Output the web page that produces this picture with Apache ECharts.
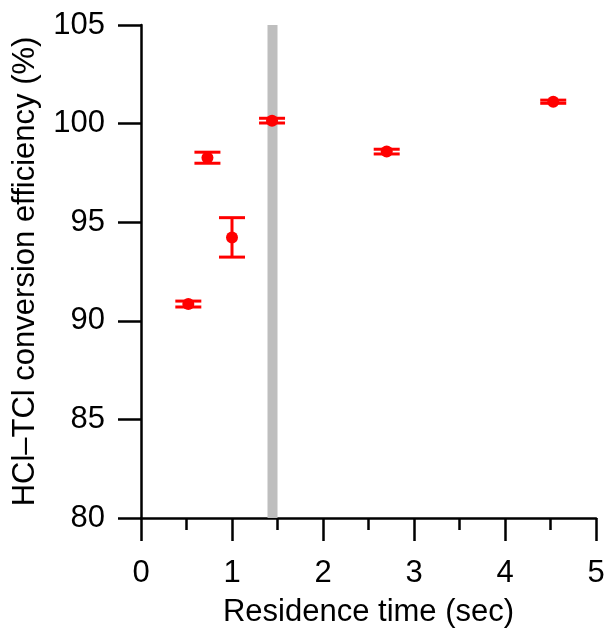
<!DOCTYPE html>
<html>
<head>
<meta charset="utf-8">
<script src="https://cdn.jsdelivr.net/npm/echarts@6/dist/echarts.min.js"></script>
<style>
html,body{margin:0;padding:0;background:#fff;}
#chart{width:607px;height:628px;}
</style>
</head>
<body>
<div id="chart"></div>
<script>
// Data
var residenceTime = [0.52, 0.73, 1.00, 1.44, 2.70, 4.53];
var efficiency    = [90.85, 98.27, 94.23, 100.15, 98.58, 101.11];
var errorAbs      = [0.15, 0.28, 1.00, 0.12, 0.12, 0.08];
var bandRange     = [1.39, 1.50];
var xTicks = [0, 1, 2, 3, 4, 5];
var yTicks = [80, 85, 90, 95, 100, 105];

var FONT = '"Liberation Sans", Arial, sans-serif';
var RED = '#ff0000';

var points = residenceTime.map(function (x, i) { return [x, efficiency[i]]; });
var errData = residenceTime.map(function (x, i) {
  return [x, efficiency[i] - errorAbs[i], efficiency[i] + errorAbs[i]];
});

var chart = echarts.init(document.getElementById('chart'), null, {renderer: 'canvas'});
chart.setOption({
  animation: false,
  backgroundColor: '#fff',
  grid: {left: 141, right: 11, top: 25, bottom: 110, containLabel: false, outerBoundsMode: 'none'},
  xAxis: {
    type: 'value',
    min: xTicks[0], max: xTicks[xTicks.length - 1], interval: 1,
    name: 'Residence time (sec)',
    nameLocation: 'middle', nameGap: 79,
    nameTextStyle: {fontFamily: FONT, fontSize: 31, color: '#000'},
    axisLine: {show: true, onZero: false, lineStyle: {color: '#000', width: 2.5}},
    axisTick: {show: true, inside: false, length: 23, lineStyle: {color: '#000', width: 2.5}},
    minorTick: {show: true, splitNumber: 2, length: 12, lineStyle: {color: '#000', width: 2.5}},
    axisLabel: {fontFamily: FONT, fontSize: 31, color: '#000', margin: 40},
    splitLine: {show: false}
  },
  yAxis: {
    type: 'value',
    min: yTicks[0], max: yTicks[yTicks.length - 1], interval: 5,
    name: 'HCl\u2013TCl conversion efficiency (%)',
    nameLocation: 'middle', nameGap: 100,
    nameTextStyle: {fontFamily: FONT, fontSize: 31, color: '#000'},
    axisLine: {show: true, onZero: false, lineStyle: {color: '#000', width: 2.5}},
    axisTick: {show: true, inside: false, length: 23, lineStyle: {color: '#000', width: 2.5}},
    axisLabel: {fontFamily: FONT, fontSize: 31, color: '#000', margin: 36},
    splitLine: {show: false}
  },
  series: [
    {
      type: 'scatter',
      data: [],
      silent: true,
      markArea: {
        silent: true,
        itemStyle: {color: '#bebebe'},
        data: [[{xAxis: bandRange[0]}, {xAxis: bandRange[1]}]]
      },
      z: 1
    },
    {
      type: 'custom',
      data: errData,
      z: 3,
      renderItem: function (params, api) {
        var x = api.value(0);
        var lo = api.coord([x, api.value(1)]);
        var hi = api.coord([x, api.value(2)]);
        var hw = 13;
        var style = {stroke: RED, lineWidth: 3, fill: null};
        return {
          type: 'group',
          children: [
            {type: 'line', shape: {x1: lo[0], y1: lo[1], x2: hi[0], y2: hi[1]}, style: style},
            {type: 'line', shape: {x1: lo[0] - hw, y1: lo[1], x2: lo[0] + hw, y2: lo[1]}, style: style},
            {type: 'line', shape: {x1: hi[0] - hw, y1: hi[1], x2: hi[0] + hw, y2: hi[1]}, style: style}
          ]
        };
      }
    },
    {
      type: 'scatter',
      data: points,
      symbol: 'circle',
      symbolSize: 12,
      itemStyle: {color: RED, opacity: 1},
      z: 4
    }
  ]
});
</script>
</body>
</html>
